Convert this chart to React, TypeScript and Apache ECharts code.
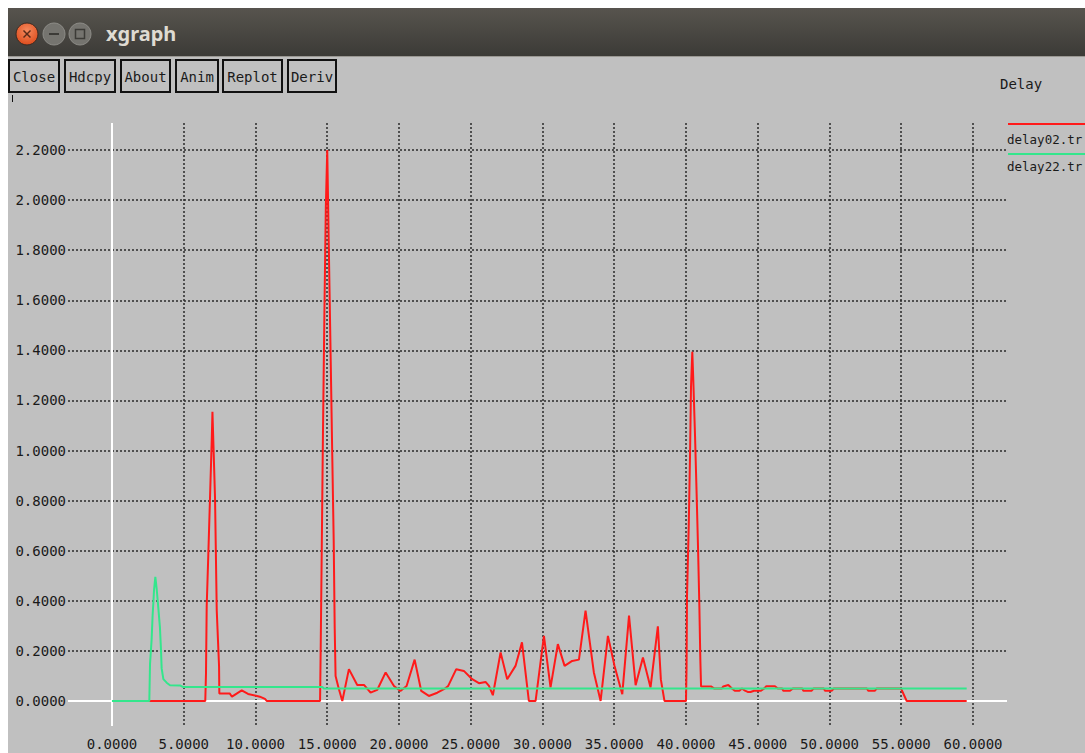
import React, { useEffect, useRef } from "react";
import * as echarts from "echarts";

// ---------- data ----------
const seriesNames = ["delay02.tr", "delay22.tr"];
const windowTitle = "xgraph";
const chartTitle = "Delay";
const buttonLabels = ["Close", "Hdcpy", "About", "Anim", "Replot", "Deriv"];

const redX = [
  0, 6.5, 6.55, 6.6, 6.71, 6.83, 6.95, 7.0, 7.06, 7.18, 7.3, 7.46, 7.48, 8.2, 8.36, 9.04, 9.48, 10.3, 10.66, 10.78,
  14.5, 14.55, 14.62, 14.7, 14.8, 14.9, 15.0, 15.05, 15.15, 15.25, 15.35, 15.45, 15.52, 15.58, 15.8, 16.05,
  16.51, 17.09, 17.56, 18.02, 18.48, 19.07, 19.65, 20.1, 20.53, 21.09, 21.55, 22.08, 22.67, 23.13, 23.43,
  23.99, 24.52, 25.1, 25.57, 26.03, 26.27, 26.54, 27.08, 27.54, 28.12, 28.57, 29.05, 29.52, 30.1, 30.56,
  31.07, 31.54, 32.07, 32.54, 33.0, 33.58, 34.05, 34.56, 35.02, 35.56, 36.03, 36.49, 37.0, 37.53, 38.04,
  38.25, 38.5, 40.0, 40.04, 40.07, 40.19, 40.28, 40.35, 40.44, 40.51, 40.63, 40.74, 40.84, 40.93, 41.0, 41.05,
  41.74, 41.95, 42.5, 42.6, 42.95, 43.2, 43.4, 43.72, 43.9, 44.11, 44.3, 44.5, 44.74, 45.23, 45.45, 45.6, 46.2,
  46.4, 46.7, 46.78, 47.25, 47.45, 48.1, 48.18, 48.76, 48.9, 49.6, 49.69, 50.15, 50.3, 52.6, 52.7, 53.17, 53.3,
  54.98, 55.38, 59.56,
];
const redY = [
  0, 0, 0.11, 0.38, 0.58, 0.81, 1.04, 1.155, 1.04, 0.81, 0.36, 0.14, 0.03, 0.03, 0.017, 0.042, 0.028, 0.017, 0.008, 0,
  0, 0.24, 0.62, 1.06, 1.54, 1.97, 2.2, 2.02, 1.67, 1.33, 0.98, 0.64, 0.29, 0.1, 0.05, 0,
  0.127, 0.064, 0.064, 0.033, 0.044, 0.114, 0.06, 0.04, 0.06, 0.165, 0.04, 0.02, 0.033, 0.047, 0.06,
  0.127, 0.12, 0.087, 0.071, 0.076, 0.06, 0.023, 0.194, 0.087, 0.14, 0.234, 0, 0, 0.26, 0.054,
  0.227, 0.14, 0.16, 0.165, 0.361, 0.114, 0, 0.26, 0.14, 0.027, 0.341, 0.063, 0.174, 0.054, 0.298,
  0.085, 0, 0, 0.137, 0.416, 0.696, 0.975, 1.255, 1.394, 1.28, 1.058, 0.829, 0.61, 0.383, 0.164, 0.058,
  0.058, 0.05, 0.05, 0.058, 0.064, 0.05, 0.041, 0.041, 0.05, 0.041, 0.036, 0.036, 0.041, 0.041, 0.05, 0.059, 0.059,
  0.05, 0.05, 0.041, 0.041, 0.05, 0.05, 0.041, 0.041, 0.05, 0.05, 0.041, 0.041, 0.05, 0.05, 0.041, 0.041, 0.05,
  0.05, 0, 0,
];
const greenX = [0, 2.6, 2.65, 2.76, 2.83, 2.93, 3.02, 3.11, 3.23, 3.34, 3.41, 3.46, 3.58, 3.81, 4.04, 4.74, 4.93, 14.66, 14.75, 59.56];
const greenY = [0, 0, 0.148, 0.244, 0.34, 0.443, 0.496, 0.45, 0.37, 0.294, 0.21, 0.13, 0.087, 0.073, 0.063, 0.062, 0.056, 0.056, 0.05, 0.05];

const xMin = -3.066;
const xMax = 62.37;
const yMin = -0.1;
const yMax = 2.308;

const FONT = '"DejaVu Sans Mono", monospace';

function fmt(v: number) {
  return (Math.abs(v) < 1e-9 ? 0 : v).toFixed(4);
}

function txt(x: number, y: number, text: string, opts: any = {}) {
  const align = opts.align || "left";
  return {
    type: "text",
    x,
    y,
    silent: true,
    style: {
      text,
      fill: opts.fill || "#1a1a1a",
      font: opts.font || `14px ${FONT}`,
      align,
      verticalAlign: "middle",
      textAlign: align,
      textVerticalAlign: "middle",
    },
  };
}

export default function App() {
  const ref = useRef<HTMLDivElement>(null);

  useEffect(() => {
    if (!ref.current) return;
    const chart = echarts.init(ref.current, null, { renderer: "svg" });

    const buttonBoxes = [
      [8, 52],
      [64, 52],
      [120, 51],
      [175, 44],
      [222, 61],
      [287, 50],
    ];
    const buttons: any[] = [];
    buttonLabels.forEach((label, i) => {
      const [bx, bw] = buttonBoxes[i];
      buttons.push({
        type: "rect",
        silent: true,
        shape: { x: bx + 1, y: 60, width: bw - 2, height: 32 },
        style: { fill: "#c0c0c0", stroke: "#111", lineWidth: 2 },
      });
      buttons.push(txt(bx + bw / 2, 76.5, label, { align: "center" }));
    });

    const graphicElements: any[] = [
      // white outer border (top / left)
      { type: "rect", silent: true, shape: { x: 0, y: 0, width: 1085, height: 8 }, style: { fill: "#ffffff" } },
      { type: "rect", silent: true, shape: { x: 0, y: 0, width: 8, height: 753 }, style: { fill: "#ffffff" } },
      // title bar
      {
        type: "rect",
        silent: true,
        shape: { x: 8, y: 8, width: 1077, height: 49 },
        style: {
          fill: new echarts.graphic.LinearGradient(0, 0, 0, 1, [
            { offset: 0, color: "#57544e" },
            { offset: 1, color: "#3b3a36" },
          ]),
        },
      },
      { type: "line", silent: true, shape: { x1: 8, y1: 56.5, x2: 1085, y2: 56.5 }, style: { stroke: "#9a9893", lineWidth: 1 } },
      // window buttons
      {
        type: "circle",
        silent: true,
        shape: { cx: 27, cy: 34, r: 11 },
        style: {
          fill: new echarts.graphic.RadialGradient(0.5, 0.35, 0.7, [
            { offset: 0, color: "#f58a5e" },
            { offset: 1, color: "#dc4818" },
          ]),
          stroke: "#3a2a22",
          lineWidth: 1,
        },
      },
      { type: "line", silent: true, shape: { x1: 23.5, y1: 30.5, x2: 30.5, y2: 37.5 }, style: { stroke: "#5a2a18", lineWidth: 1.5 } },
      { type: "line", silent: true, shape: { x1: 30.5, y1: 30.5, x2: 23.5, y2: 37.5 }, style: { stroke: "#5a2a18", lineWidth: 1.5 } },
      {
        type: "circle",
        silent: true,
        shape: { cx: 54, cy: 34, r: 11 },
        style: { fill: "#75746f", stroke: "#8e8d88", lineWidth: 1 },
      },
      { type: "line", silent: true, shape: { x1: 49, y1: 34, x2: 59, y2: 34 }, style: { stroke: "#3c3b37", lineWidth: 2 } },
      {
        type: "circle",
        silent: true,
        shape: { cx: 80, cy: 34, r: 11 },
        style: { fill: "#75746f", stroke: "#8e8d88", lineWidth: 1 },
      },
      { type: "rect", silent: true, shape: { x: 75.5, y: 29.5, width: 9, height: 9 }, style: { fill: "none", stroke: "#3c3b37", lineWidth: 1.5 } },
      txt(106, 33, windowTitle, { fill: "#dfdbd2", font: `bold 20px "Noto Sans", sans-serif` }),
      // small cursor mark
      { type: "line", silent: true, shape: { x1: 12.5, y1: 95, x2: 12.5, y2: 102 }, style: { stroke: "#111", lineWidth: 1 } },
      ...buttons,
      // chart title
      txt(1000, 84, chartTitle),
      // legend
      { type: "line", silent: true, shape: { x1: 1008, y1: 124, x2: 1085, y2: 124 }, style: { stroke: "#ff1a1a", lineWidth: 2 } },
      txt(1007, 139, seriesNames[0], { font: `12.5px ${FONT}` }),
      { type: "line", silent: true, shape: { x1: 1008, y1: 154, x2: 1085, y2: 154 }, style: { stroke: "#33e68c", lineWidth: 2 } },
      txt(1007, 166, seriesNames[1], { font: `12.5px ${FONT}` }),
    ];

    const gridLineStyle = { color: "#2a2a2a", width: 1.5, type: [2, 2] as any };

    chart.setOption({
      animation: false,
      backgroundColor: "#c0c0c0",
      graphic: { elements: graphicElements },
      grid: { left: 68, top: 123, width: 939, height: 603, containLabel: false, outerBoundsMode: "none" },
      xAxis: {
        type: "value",
        min: xMin,
        max: xMax,
        splitNumber: 13,
        axisLine: { show: false },
        axisTick: { show: false },
        splitLine: { show: true, showMinLine: false, showMaxLine: false, lineStyle: gridLineStyle },
        axisLabel: {
          showMinLabel: false,
          showMaxLabel: false,
          formatter: fmt,
          color: "#1a1a1a",
          fontFamily: FONT,
          fontSize: 14,
          margin: 11,
        },
      },
      yAxis: {
        type: "value",
        min: yMin,
        max: yMax,
        splitNumber: 12,
        axisLine: { show: false },
        axisTick: { show: false },
        splitLine: { show: true, showMinLine: false, showMaxLine: false, lineStyle: gridLineStyle },
        axisLabel: {
          showMinLabel: false,
          showMaxLabel: false,
          formatter: fmt,
          color: "#1a1a1a",
          fontFamily: FONT,
          fontSize: 14,
          margin: 2,
        },
      },
      series: [
        {
          type: "line",
          name: "zero",
          data: [],
          z: 1,
          silent: true,
          markLine: {
            silent: true,
            symbol: "none",
            z: 1,
            animation: false,
            label: { show: false },
            lineStyle: { color: "#ffffff", width: 2, type: "solid" },
            data: [{ yAxis: 0 }, { xAxis: 0 }],
          },
        },
        {
          type: "line",
          name: seriesNames[0],
          data: redX.map((x, i) => [x, redY[i]]),
          showSymbol: false,
          symbol: "none",
          z: 2,
          lineStyle: { color: "#ff1a1a", width: 2 },
          itemStyle: { color: "#ff1a1a" },
        },
        {
          type: "line",
          name: seriesNames[1],
          data: greenX.map((x, i) => [x, greenY[i]]),
          showSymbol: false,
          symbol: "none",
          z: 3,
          lineStyle: { color: "#33e68c", width: 2 },
          itemStyle: { color: "#33e68c" },
        },
      ],
    });

    return () => chart.dispose();
  }, []);

  return (
    <div
      ref={ref}
      style={{ position: "fixed", left: 0, top: 0, width: 1085, height: 753 }}
    />
  );
}
